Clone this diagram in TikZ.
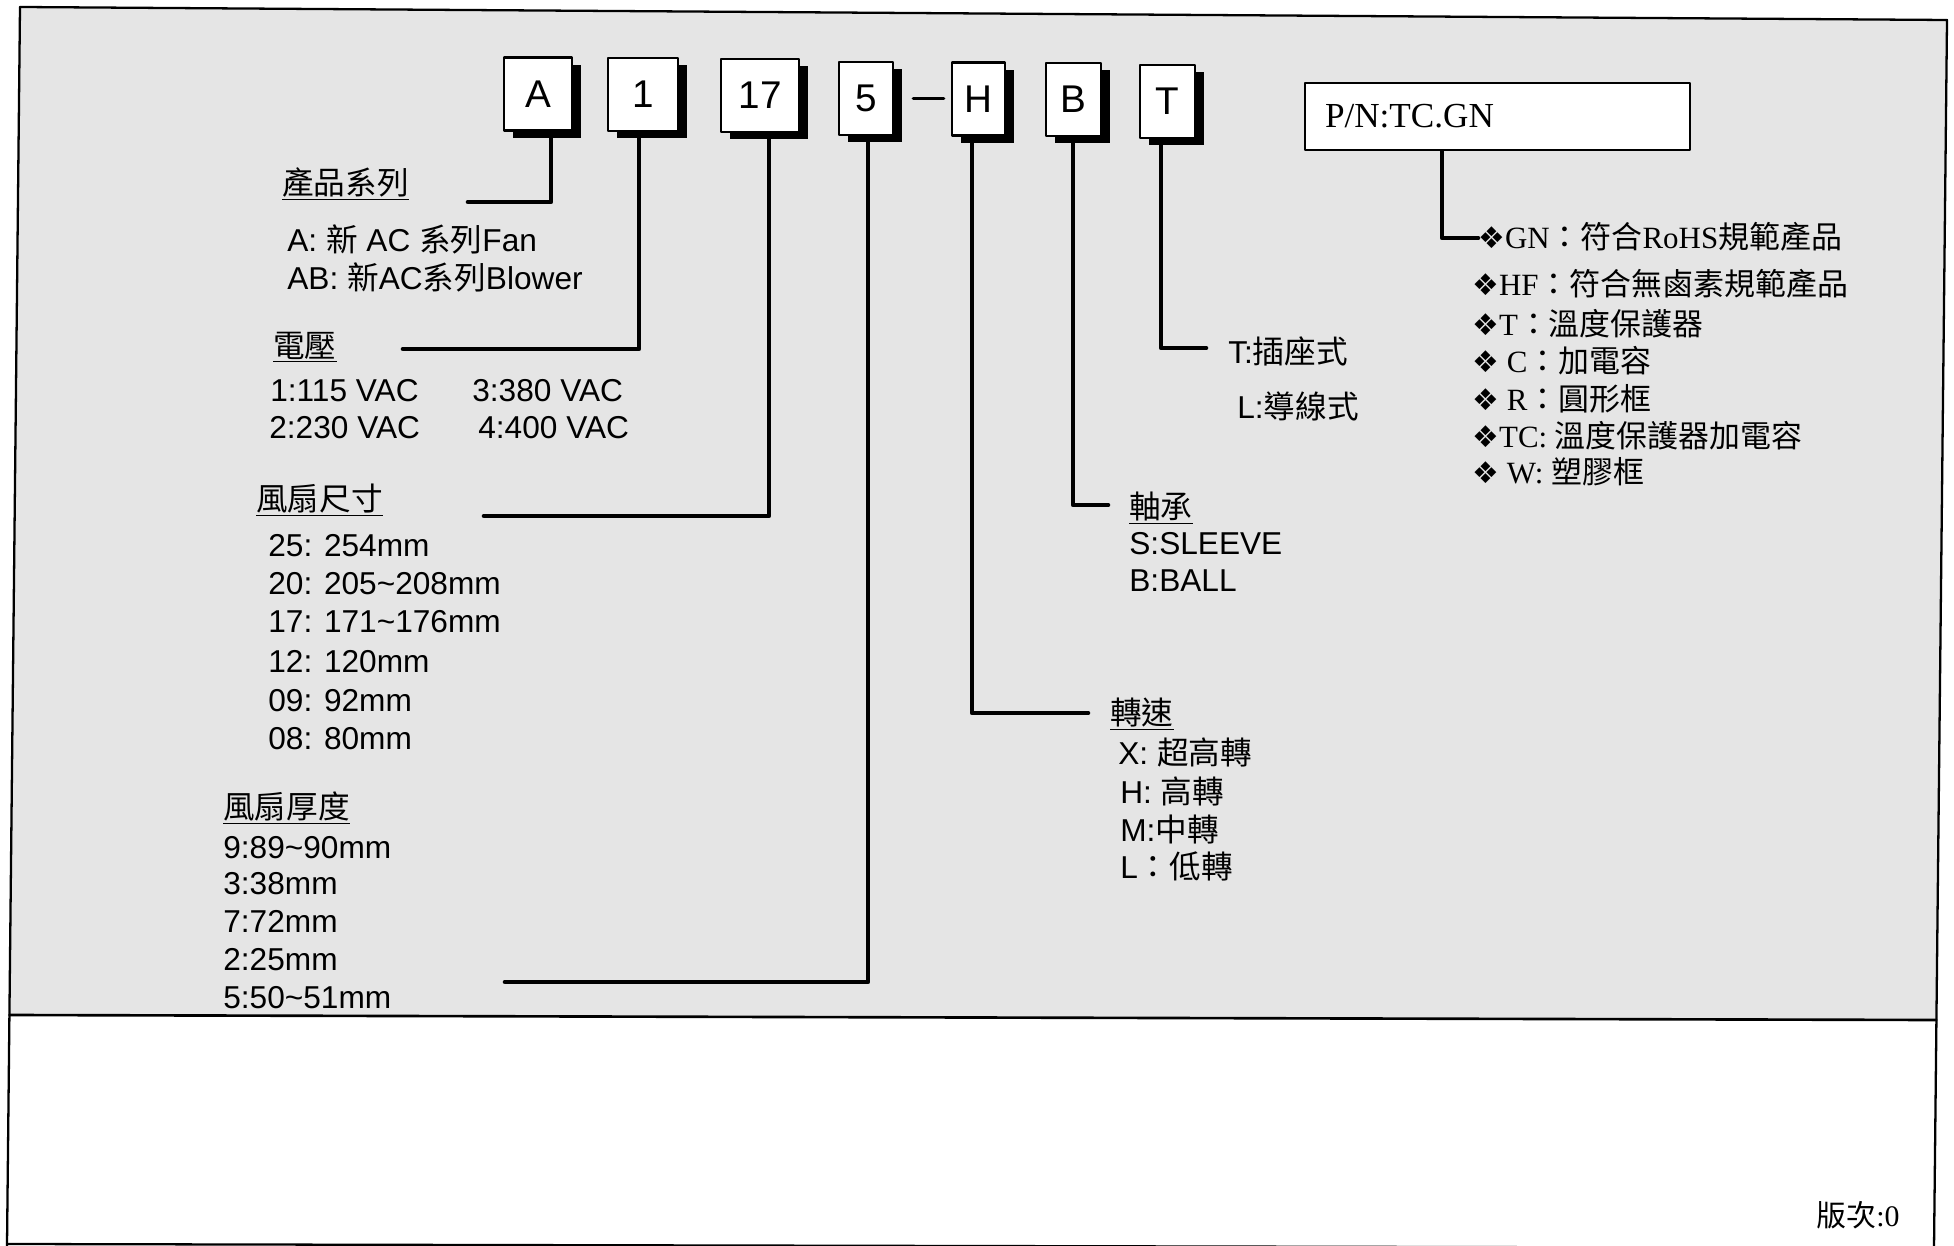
\documentclass[tikz,border=0pt]{standalone}
\usepackage{fontspec}
\setmainfont{Liberation Sans}
\newfontfamily\zhfont{Noto Sans CJK TC}
\newfontfamily\romfont{Liberation Serif}
\newfontfamily\dingfont{DejaVu Sans}
\newcommand{\zh}[1]{{\zhfont #1}}
\newcommand{\dia}{{\dingfont\fontsize{17}{17}\selectfont ❖}}
\usepackage{pgf,tikz}
\usetikzlibrary{arrows}
\usetikzlibrary{positioning}
\usetikzlibrary{shadows}
\definecolor{paper}{gray}{0.9}
\tikzset{
  codebox/.style={draw=black,fill=white,line width=1.5pt,minimum height=1.46cm,inner sep=0pt,
    font=\fontsize{22}{24}\selectfont,
    drop shadow={shadow xshift=0.17cm,shadow yshift=-0.15cm,fill=black,opacity=1}},
  pnbox/.style={draw=black,fill=white,line width=1.6pt,minimum width=7.7cm,minimum height=1.34cm,
    text width=6.9cm,align=left,inner xsep=0.4cm,font=\romfont\fontsize{20}{22}\selectfont},
  lead/.style={line width=2.6pt},
  txt/.style={anchor=west,inner sep=0pt,font=\fontsize{18}{21}\selectfont,text height=12.7pt,text depth=0pt},
  pnitem/.style={anchor=west,inner sep=0pt,font=\romfont\fontsize{17.6}{20}\selectfont,text height=12.4pt,text depth=0pt}
}
\begin{document}
\begin{tikzpicture}[line cap=round,line join=round,x=2cm,y=2cm]
\useasboundingbox (0,0) rectangle (19.54,-12.46);
\clip(0,0) rectangle (19.54,-12.46);
% sheet
\fill[color=paper] (0.20,-0.07) -- (19.47,-0.20) -- (19.364,-10.20) -- (0.094,-10.15) -- cycle;
\draw[line width=1.3pt] (0.20,-0.07) -- (19.47,-0.20) -- (19.34,-12.48);
\draw[line width=1.3pt] (0.20,-0.07) -- (0.07,-12.46);
\draw[line width=1.3pt] (0.07,-12.44) -- (19.34,-12.48);
\draw[line width=1.5pt] (0.094,-10.15) -- (19.364,-10.20);
% code boxes
\node[codebox,minimum width=1.36cm] (bA) at (5.38,-0.94) {A};
\node[codebox,minimum width=1.40cm] (b1) at (6.43,-0.945) {1};
\node[codebox,minimum width=1.56cm] (b17) at (7.60,-0.955) {17};
\node[codebox,minimum width=1.08cm] (b5) at (8.66,-0.985) {5};
\node[codebox,minimum width=1.06cm] (bH) at (9.785,-0.99) {H};
\node[codebox,minimum width=1.10cm] (bB) at (10.735,-0.995) {B};
\node[codebox,minimum width=1.10cm] (bT) at (11.675,-1.015) {T};
\draw[line width=2pt] ([xshift=0.38cm]b5.east) -- ([xshift=-0.14cm]b5.east -| bH.west);
\node[pnbox] (pn) at (14.975,-1.165) {P/N:TC.GN};
% left labels
\node[txt] (hSeries) at (2.82,-1.83) {\underline{\zh{產品系列}}};
\node[txt] (ser1) at (2.87,-2.40) {A: \zh{新} AC \zh{系列}Fan};
\node[txt] (ser2) at (2.87,-2.78) {AB: \zh{新}AC\zh{系列}Blower};
\node[txt] (hVolt) at (2.73,-3.46) {\underline{\zh{電壓}}};
\node[txt] (v1) at (2.70,-3.90) {1:115 VAC};
\node[txt] (v3) at (4.72,-3.90) {3:380 VAC};
\node[txt] (v2) at (2.69,-4.27) {2:230 VAC};
\node[txt] (v4) at (4.78,-4.27) {4:400 VAC};
\node[txt] (hSize) at (2.56,-4.99) {\underline{\zh{風扇尺寸}}};
\node[txt] (s25) at (2.68,-5.45) {25: 254mm};
\node[txt] (s20) at (2.68,-5.83) {20: 205\textasciitilde 208mm};
\node[txt] (s17) at (2.68,-6.21) {17: 171\textasciitilde 176mm};
\node[txt] (s12) at (2.68,-6.61) {12: 120mm};
\node[txt] (s09) at (2.68,-7.00) {09: 92mm};
\node[txt] (s08) at (2.68,-7.38) {08: 80mm};
\node[txt] (hThick) at (2.23,-8.07) {\underline{\zh{風扇厚度}}};
\node[txt] (t9) at (2.23,-8.47) {9:89\textasciitilde 90mm};
\node[txt] (t3) at (2.23,-8.83) {3:38mm};
\node[txt] (t7) at (2.23,-9.21) {7:72mm};
\node[txt] (t2) at (2.23,-9.59) {2:25mm};
\node[txt] (t5) at (2.23,-9.97) {5:50\textasciitilde 51mm};
% middle labels
\node[txt] (tT) at (12.28,-3.52) {T:\zh{插座式}};
\node[txt] (tL) at (12.37,-4.07) {L:\zh{導線式}};
\node[txt] (hBear) at (11.29,-5.07) {\underline{\zh{軸承}}};
\node[txt] (sl) at (11.29,-5.43) {S:SLEEVE};
\node[txt] (bl) at (11.29,-5.80) {B:BALL};
\node[txt] (hSpeed) at (11.10,-7.13) {\underline{\zh{轉速}}};
\node[txt] (xs) at (11.18,-7.53) {X: \zh{超高轉}};
\node[txt] (hs) at (11.20,-7.92) {H: \zh{高轉}};
\node[txt] (ms) at (11.20,-8.30) {M:\zh{中轉}};
\node[txt] (ls) at (11.20,-8.67) {L\zh{：低轉}};
% suffix list
\node[pnitem] (gn) at (14.78,-2.38) {\dia GN\zh{：符合}RoHS\zh{規範產品}};
\node[pnitem] (hf) at (14.72,-2.85) {\dia HF\zh{：符合無鹵素規範產品}};
\node[pnitem] (tp) at (14.72,-3.25) {\dia T\zh{：溫度保護器}};
\node[pnitem] (cp) at (14.72,-3.62) {\dia\ C\zh{：加電容}};
\node[pnitem] (rf) at (14.72,-4.00) {\dia\ R\zh{：圓形框}};
\node[pnitem] (tc) at (14.72,-4.37) {\dia TC: \zh{溫度保護器加電容}};
\node[pnitem] (wf) at (14.72,-4.73) {\dia\ W: \zh{塑膠框}};
\node[anchor=east,inner sep=0pt,font=\fontsize{17}{20}\selectfont] (ver) at (19.00,-12.15) {\zh{版次}\romfont:0};
% leads
\coordinate (cA) at (5.51,-2.02);
\coordinate (eA) at (4.68,-2.02);
\coordinate (c1) at (6.39,-3.49);
\coordinate (e1) at (4.03,-3.49);
\coordinate (c17) at (7.69,-5.16);
\coordinate (e17) at (4.84,-5.16);
\coordinate (c5) at (8.68,-9.82);
\coordinate (e5) at (5.05,-9.82);
\coordinate (cH) at (9.72,-7.13);
\coordinate (eH) at (10.88,-7.13);
\coordinate (cB) at (10.73,-5.05);
\coordinate (eB) at (11.08,-5.05);
\coordinate (cT) at (11.61,-3.48);
\coordinate (eT) at (12.06,-3.48);
\coordinate (cPN) at (14.42,-2.38);
\draw[lead] (cA |- bA.south) -- (cA) -- (eA);
\draw[lead] (c1 |- b1.south) -- (c1) -- (e1);
\draw[lead] (c17 |- b17.south) -- (c17) -- (e17);
\draw[lead] (c5 |- b5.south) -- (c5) -- (e5);
\draw[lead] (cH |- bH.south) -- (cH) -- (eH);
\draw[lead] (cB |- bB.south) -- (cB) -- (eB);
\draw[lead] (cT |- bT.south) -- (cT) -- (eT);
\draw[lead] (cPN |- pn.south) -- (cPN) -- (gn.west);
\end{tikzpicture}
\end{document}
